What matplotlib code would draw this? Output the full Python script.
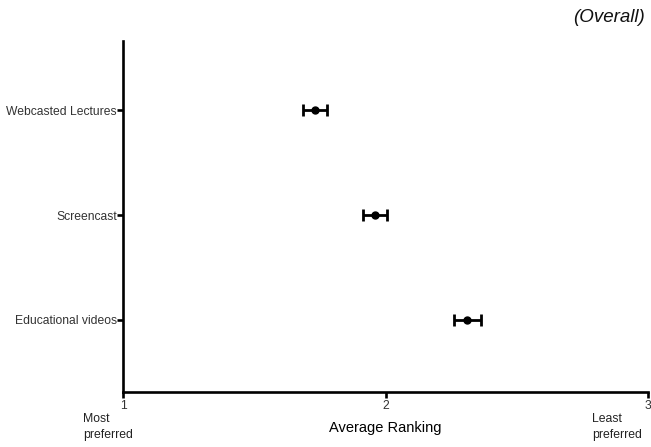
import matplotlib
matplotlib.use("Agg")
import matplotlib.pyplot as plt

plt.rcParams['font.family'] = ['Liberation Sans', 'DejaVu Sans']

categories = ["Educational videos", "Screencast", "Webcasted Lectures"]
mean_rank = [2.312, 1.961, 1.730]
sem = [0.051, 0.046, 0.046]
x_ticks = [1, 2, 3]

fig = plt.figure(figsize=(6.51, 4.47), dpi=100)
ax = fig.add_axes([0.189, 0.123, 0.8064, 0.785])

ypos = list(range(1, len(categories) + 1))
ax.errorbar(mean_rank, ypos, xerr=sem, fmt='o', color='black', markersize=5,
            elinewidth=2.0, capsize=4, capthick=2.0)

ax.set_xlim(1, 3)
ax.set_ylim(0.31, 3.66)
ax.set_xticks(x_ticks)
ax.set_xticklabels([str(t) for t in x_ticks], fontsize=8.7, color='#333333')
ax.set_yticks(ypos)
ax.set_yticklabels(categories, fontsize=8.7, color='#333333')

for side in ('top', 'right'):
    ax.spines[side].set_visible(False)
for side in ('left', 'bottom'):
    ax.spines[side].set_linewidth(1.9)
ax.tick_params(axis='x', width=1.9, length=4, pad=2)
ax.tick_params(axis='y', width=1.9, length=4, pad=0.5)

ax.set_xlabel("Average Ranking", fontsize=10.5, labelpad=6)
fig.text(0.1275, 0.045, "Most\npreferred", fontsize=8.8, ha='left', va='center',
         linespacing=1.45, color='#222222')
fig.text(0.910, 0.045, "Least\npreferred", fontsize=8.8, ha='left', va='center',
         linespacing=1.45, color='#222222')
fig.text(0.991, 0.96, "(Overall)", fontsize=13.5, style='italic', ha='right',
         va='center', color='#111111')

fig.savefig("out.png", dpi=100)
